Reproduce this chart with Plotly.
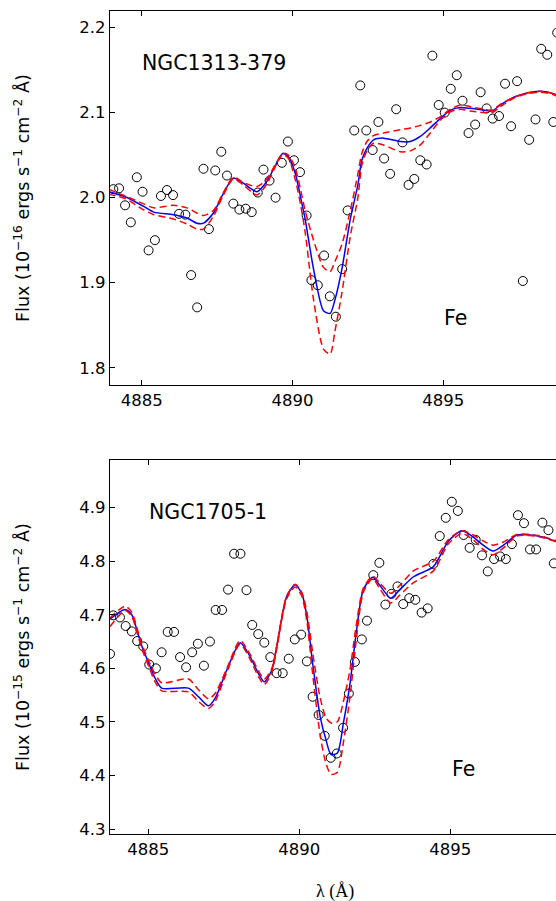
import plotly.graph_objects as go

# ---------------- Top panel: NGC1313-379 ----------------
top_obs_x = [4884.06, 4884.25, 4884.45, 4884.64, 4884.84, 4885.03, 4885.23, 4885.44, 4885.64, 4885.84,
             4886.04, 4886.24, 4886.45, 4886.64, 4886.84, 4887.05, 4887.23, 4887.44, 4887.64, 4887.83,
             4888.04, 4888.24, 4888.45, 4888.65, 4888.85, 4889.04, 4889.24, 4889.44, 4889.65, 4889.85,
             4890.05, 4890.25, 4890.47, 4890.63, 4890.84, 4891.05, 4891.24, 4891.44, 4891.65, 4891.83,
             4892.05, 4892.25, 4892.45, 4892.66, 4892.85, 4893.04, 4893.24, 4893.44, 4893.65, 4893.85,
             4894.04, 4894.24, 4894.45, 4894.64, 4894.85, 4895.05, 4895.25, 4895.45, 4895.64, 4895.84,
             4896.06, 4896.24, 4896.44, 4896.64, 4896.85, 4897.05, 4897.25, 4897.45, 4897.64, 4897.85,
             4898.06, 4898.25, 4898.45, 4898.65, 4898.78]
top_obs_y = [2.010, 2.011, 1.991, 1.971, 2.024, 2.007, 1.938, 1.950, 2.002, 2.009,
             2.003, 1.981, 1.980, 1.909, 1.871, 2.034, 1.963, 2.032, 2.054, 2.026,
             1.993, 1.986, 1.987, 1.983, 2.006, 2.033, 2.020, 2.000, 2.041, 2.066,
             2.044, 2.030, 1.979, 1.903, 1.897, 1.932, 1.884, 1.860, 1.916, 1.985,
             2.079, 2.132, 2.079, 2.056, 2.089, 2.046, 2.028, 2.104, 2.065, 2.015,
             2.022, 2.044, 2.039, 2.167, 2.109, 2.100, 2.128, 2.144, 2.114, 2.076,
             2.086, 2.124, 2.105, 2.093, 2.096, 2.134, 2.084, 2.137, 1.902, 2.068,
             2.092, 2.175, 2.168, 2.089, 2.194]

top_mod_x = [4883.90, 4884.45, 4885.05, 4885.40, 4886.05, 4886.50, 4886.83, 4887.05, 4887.38, 4887.71,
             4888.04, 4888.37, 4888.82, 4889.15, 4889.48, 4889.68, 4889.87, 4890.09, 4890.28, 4890.42,
             4890.70, 4891.03, 4891.25, 4891.41, 4891.64, 4891.92, 4892.17, 4892.30, 4892.47, 4892.69,
             4893.02, 4893.58, 4893.91, 4894.24, 4894.57, 4894.90, 4895.24, 4895.57, 4895.90, 4896.34,
             4896.62, 4896.90, 4897.34, 4897.78, 4898.22, 4898.67, 4899.00]
top_mod_y = [2.007, 2.001, 1.990, 1.983, 1.980, 1.976, 1.970, 1.970, 1.982, 2.005,
             2.023, 2.017, 2.007, 2.019, 2.041, 2.052, 2.048, 2.029, 1.999, 1.975,
             1.916, 1.867, 1.864, 1.880, 1.916, 1.975, 2.015, 2.044, 2.058, 2.068,
             2.070, 2.066, 2.066, 2.072, 2.082, 2.093, 2.103, 2.106, 2.105, 2.103,
             2.102, 2.109, 2.118, 2.123, 2.125, 2.122, 2.115]
top_hi_y = [2.010, 2.002, 1.993, 1.988, 1.991, 1.988, 1.982, 1.979, 1.985, 2.006,
            2.024, 2.018, 2.013, 2.022, 2.042, 2.052, 2.050, 2.035, 2.008, 1.985,
            1.950, 1.918, 1.913, 1.925, 1.945, 1.985, 2.028, 2.052, 2.066, 2.073,
            2.076, 2.080, 2.082, 2.085, 2.089, 2.095, 2.104, 2.109, 2.107, 2.104,
            2.103, 2.110, 2.118, 2.123, 2.125, 2.122, 2.116]
top_lo_y = [2.004, 1.999, 1.986, 1.980, 1.975, 1.969, 1.963, 1.963, 1.978, 2.003,
            2.022, 2.015, 2.003, 2.016, 2.040, 2.051, 2.046, 2.022, 1.990, 1.960,
            1.880, 1.822, 1.816, 1.843, 1.888, 1.955, 2.000, 2.038, 2.055, 2.064,
            2.062, 2.054, 2.055, 2.062, 2.076, 2.091, 2.101, 2.104, 2.102, 2.100,
            2.100, 2.107, 2.117, 2.122, 2.124, 2.121, 2.114]

# ---------------- Bottom panel: NGC1705-1 ----------------
bot_obs_x = [4883.73, 4883.84, 4884.06, 4884.25, 4884.45, 4884.63, 4884.83, 4885.03, 4885.25, 4885.44,
             4885.64, 4885.85, 4886.05, 4886.25, 4886.45, 4886.64, 4886.84, 4887.04, 4887.23, 4887.44,
             4887.64, 4887.84, 4888.05, 4888.25, 4888.44, 4888.64, 4888.84, 4889.04, 4889.25, 4889.45,
             4889.65, 4889.85, 4890.06, 4890.25, 4890.44, 4890.64, 4890.84, 4891.04, 4891.24, 4891.45,
             4891.64, 4891.84, 4892.07, 4892.24, 4892.45, 4892.65, 4892.85, 4893.05, 4893.25, 4893.44,
             4893.64, 4893.84, 4894.05, 4894.25, 4894.44, 4894.65, 4894.85, 4895.05, 4895.25, 4895.44,
             4895.64, 4895.84, 4896.05, 4896.24, 4896.45, 4896.65, 4896.84, 4897.04, 4897.24, 4897.44,
             4897.64, 4897.84, 4898.05, 4898.25, 4898.43]
bot_obs_y = [4.627, 4.699, 4.695, 4.679, 4.669, 4.651, 4.641, 4.607, 4.600, 4.630,
             4.668, 4.668, 4.621, 4.602, 4.630, 4.646, 4.605, 4.650, 4.709, 4.709,
             4.747, 4.814, 4.814, 4.746, 4.681, 4.664, 4.648, 4.621, 4.591, 4.591,
             4.618, 4.654, 4.663, 4.613, 4.547, 4.513, 4.474, 4.433, 4.441, 4.489,
             4.553, 4.612, 4.654, 4.689, 4.774, 4.797, 4.719, 4.739, 4.753, 4.720,
             4.731, 4.728, 4.704, 4.712, 4.795, 4.847, 4.881, 4.911, 4.894, 4.849,
             4.825, 4.840, 4.811, 4.781, 4.804, 4.809, 4.804, 4.832, 4.886, 4.871,
             4.822, 4.822, 4.872, 4.858, 4.796]

bot_mod_x = [4883.73, 4884.23, 4884.45, 4884.62, 4884.78, 4885.06, 4885.22, 4885.44, 4886.33, 4886.66,
             4886.99, 4887.21, 4887.60, 4888.04, 4888.37, 4888.64, 4888.84, 4889.09, 4889.25, 4889.58,
             4889.86, 4890.08, 4890.25, 4890.44, 4890.69, 4890.88, 4891.05, 4891.26, 4891.46, 4891.68,
             4891.87, 4892.12, 4892.43, 4892.65, 4893.03, 4893.33, 4893.78, 4894.44, 4894.93, 4895.38,
             4895.76, 4896.09, 4896.42, 4896.76, 4897.20, 4897.64, 4898.08, 4898.47, 4899.00]
bot_mod_y = [4.692, 4.710, 4.700, 4.672, 4.642, 4.603, 4.582, 4.563, 4.563, 4.547,
             4.530, 4.544, 4.597, 4.648, 4.622, 4.591, 4.575, 4.597, 4.640, 4.734,
             4.756, 4.740, 4.697, 4.610, 4.510, 4.467, 4.439, 4.442, 4.498, 4.572,
             4.660, 4.747, 4.770, 4.756, 4.731, 4.747, 4.771, 4.790, 4.837, 4.857,
             4.845, 4.830, 4.819, 4.830, 4.849, 4.849, 4.845, 4.838, 4.830]
bot_hi_y = [4.694, 4.716, 4.705, 4.676, 4.646, 4.608, 4.590, 4.573, 4.580, 4.560,
            4.543, 4.553, 4.600, 4.652, 4.626, 4.596, 4.580, 4.600, 4.642, 4.735,
            4.757, 4.742, 4.705, 4.630, 4.545, 4.508, 4.498, 4.500, 4.538, 4.598,
            4.675, 4.750, 4.772, 4.760, 4.740, 4.755, 4.782, 4.800, 4.840, 4.857,
            4.849, 4.838, 4.830, 4.836, 4.850, 4.850, 4.846, 4.839, 4.831]
bot_lo_y = [4.678, 4.708, 4.697, 4.668, 4.637, 4.597, 4.575, 4.558, 4.556, 4.538,
            4.525, 4.538, 4.593, 4.645, 4.617, 4.585, 4.570, 4.593, 4.636, 4.730,
            4.752, 4.735, 4.688, 4.590, 4.475, 4.423, 4.402, 4.406, 4.462, 4.548,
            4.645, 4.742, 4.768, 4.750, 4.722, 4.737, 4.760, 4.782, 4.832, 4.852,
            4.840, 4.822, 4.812, 4.825, 4.847, 4.848, 4.844, 4.837, 4.829]

x_ticks = [4885, 4890, 4895]
top_y_ticks = [1.8, 1.9, 2.0, 2.1, 2.2]
bot_y_ticks = [4.3, 4.4, 4.5, 4.6, 4.7, 4.8, 4.9]

top_xrange = [4883.95, 4898.74]
bot_xrange = [4883.73, 4898.50]
top_yrange = [1.7797, 2.2195]
bot_yrange = [4.2907, 4.989]

W, H = 556, 901
ML, MT, MB = 110, 11, 67
plot_h = H - MT - MB
top_dom = [(834 - 385) / plot_h, 1.0]
bot_dom = [0.0, (834 - 460) / plot_h]

def px(x):
    return (x - ML) / (W - ML)

def py(y):
    return (834 - y) / plot_h

fig = go.Figure()

def add_panel(xa, ya, ox, oy, mx, my, hy, ly):
    fig.add_trace(go.Scatter(x=ox, y=oy, mode="markers", xaxis=xa, yaxis=ya,
                             marker=dict(symbol="circle-open", size=9, color="black",
                                         line=dict(width=1, color="black")),
                             showlegend=False, hoverinfo="skip"))
    fig.add_trace(go.Scatter(x=mx, y=my, mode="lines", xaxis=xa, yaxis=ya,
                             line=dict(color="#0000ff", width=1.5, shape="spline", smoothing=0.7),
                             showlegend=False))
    for yy in (ly, hy):
        fig.add_trace(go.Scatter(x=mx, y=yy, mode="lines", xaxis=xa, yaxis=ya,
                                 line=dict(color="#ff0000", width=1.5, dash="7px,4px",
                                           shape="spline", smoothing=0.7),
                                 showlegend=False))

add_panel("x", "y", top_obs_x, top_obs_y, top_mod_x, top_mod_y, top_hi_y, top_lo_y)
add_panel("x2", "y2", bot_obs_x, bot_obs_y, bot_mod_x, bot_mod_y, bot_hi_y, bot_lo_y)

# empty traces so that the top-side tick axes render
fig.add_trace(go.Scatter(x=[None], y=[None], xaxis="x3", yaxis="y", showlegend=False))
fig.add_trace(go.Scatter(x=[None], y=[None], xaxis="x4", yaxis="y2", showlegend=False))

tickfont = dict(family="DejaVu Sans", size=16.5, color="black")
common_x = dict(showgrid=False, zeroline=False, showline=True, linecolor="black", linewidth=1.2,
                ticks="inside", ticklen=5, tickwidth=1, tickcolor="black", tickvals=x_ticks,
                tickfont=tickfont)
common_y = dict(showgrid=False, zeroline=False, showline=True, linecolor="black", linewidth=1.2,
                ticks="inside", ticklen=5, tickwidth=1, tickcolor="black", tickformat=".1f",
                tickfont=tickfont)

fig.update_layout(
    width=W, height=H,
    margin=dict(l=ML, r=0, t=MT, b=MB),
    paper_bgcolor="white", plot_bgcolor="white",
    xaxis=dict(common_x, range=top_xrange, anchor="y"),
    yaxis=dict(common_y, range=top_yrange, domain=top_dom, tickvals=top_y_ticks, anchor="x"),
    xaxis2=dict(common_x, range=bot_xrange, anchor="y2"),
    yaxis2=dict(common_y, range=bot_yrange, domain=bot_dom, tickvals=bot_y_ticks, anchor="x2"),
    xaxis3=dict(common_x, range=top_xrange, overlaying="x", side="top", anchor="y",
                showticklabels=False),
    xaxis4=dict(common_x, range=bot_xrange, overlaying="x2", side="top", anchor="y2",
                showticklabels=False),
)

lab = dict(family="DejaVu Sans", size=20.5, color="black")
ylab_font = dict(family="DejaVu Sans", size=17.5, color="black")
ann = [
    dict(text="NGC1313-379", x=px(140), y=py(63), xanchor="left", yanchor="middle", font=lab),
    dict(text="Fe", x=px(442), y=py(318.5), xanchor="left", yanchor="middle", font=lab),
    dict(text="NGC1705-1", x=px(147), y=py(512), xanchor="left", yanchor="middle", font=lab),
    dict(text="Fe", x=px(450), y=py(769), xanchor="left", yanchor="middle", font=lab),
    dict(text="λ (Å)", x=px(335), y=py(891), xanchor="center", yanchor="middle",
         font=dict(family="Liberation Serif", size=18, color="black")),
    dict(text="Flux (10<sup>−16</sup> ergs s<sup>−1</sup> cm<sup>−2</sup> Å)", x=px(22), y=py(198),
         xanchor="center", yanchor="middle", textangle=-90, font=ylab_font),
    dict(text="Flux (10<sup>−15</sup> ergs s<sup>−1</sup> cm<sup>−2</sup> Å)", x=px(22), y=py(647),
         xanchor="center", yanchor="middle", textangle=-90, font=ylab_font),
]
for a in ann:
    a.update(xref="paper", yref="paper", showarrow=False)
fig.update_layout(annotations=ann)

fig.write_html("out.html", config={"displayModeBar": False},
               post_script="document.body.style.margin='0px';document.body.style.overflow='hidden';")
